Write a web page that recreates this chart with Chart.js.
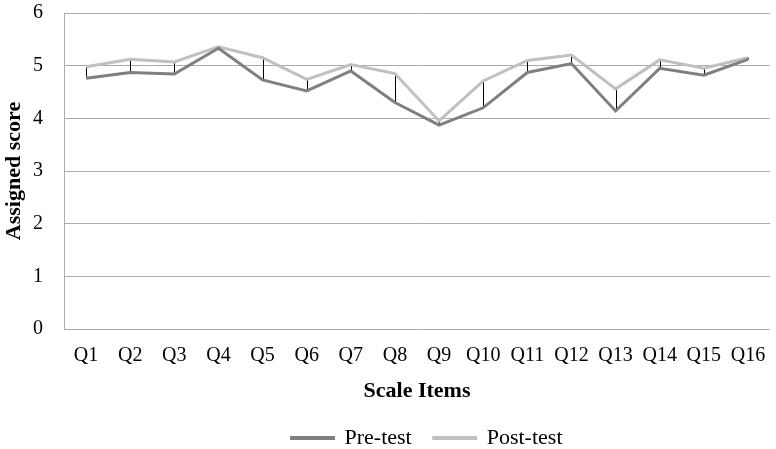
<!DOCTYPE html>
<html>
<head>
<meta charset="utf-8">
<script src="https://cdn.jsdelivr.net/npm/chart.js@4/dist/chart.umd.min.js"></script>
<style>
    html, body { margin: 0; padding: 0; background: #fff; }
    #wrap { width: 776px; height: 449px; }
</style>
</head>
<body>
<div id="wrap"><canvas id="chart"></canvas></div>
<script>
const categories = ['Q1', 'Q2', 'Q3', 'Q4', 'Q5', 'Q6', 'Q7', 'Q8', 'Q9', 'Q10', 'Q11', 'Q12', 'Q13', 'Q14', 'Q15', 'Q16'];
const preTest = [4.76, 4.87, 4.84, 5.33, 4.73, 4.52, 4.90, 4.30, 3.87, 4.20, 4.87, 5.04, 4.14, 4.95, 4.82, 5.12];
const postTest = [4.98, 5.12, 5.07, 5.36, 5.15, 4.74, 5.02, 4.85, 3.95, 4.71, 5.10, 5.20, 4.56, 5.11, 4.95, 5.15];

const serif = '"Liberation Serif", "DejaVu Serif", serif';

// thin black high-low lines between the two series at every category
const dropLines = {
    id: 'dropLines',
    beforeDatasetsDraw(chart) {
        const {ctx, scales: {x, y}} = chart;
        ctx.save();
        ctx.strokeStyle = '#000';
        ctx.lineWidth = 1;
        categories.forEach((c, i) => {
            const px = Math.round(x.getPixelForValue(i)) + 0.5;
            ctx.beginPath();
            ctx.moveTo(px, y.getPixelForValue(preTest[i]));
            ctx.lineTo(px, y.getPixelForValue(postTest[i]));
            ctx.stroke();
        });
        ctx.restore();
    }
};

// the legend sits a little right of the page centre in the original
const legendShift = {
    id: 'legendShift',
    afterLayout(chart) {
        chart.legend.left += 42;
        chart.legend.right += 42;
    }
};

const boot = () => {
    new Chart(document.getElementById('chart'), {
        type: 'line',
        data: {
            labels: categories,
            datasets: [{
                label: 'Pre-test',
                data: preTest,
                borderColor: '#7f7f7f',
                backgroundColor: '#7f7f7f',
                borderWidth: 3,
                pointRadius: 0,
                tension: 0,
            }, {
                label: 'Post-test',
                data: postTest,
                borderColor: '#c0c0c0',
                backgroundColor: '#c0c0c0',
                borderWidth: 3,
                pointRadius: 0,
                tension: 0,
            }]
        },
        options: {
            responsive: true,
            maintainAspectRatio: false,
            animation: false,
            layout: { padding: { left: 0, right: 6, top: 13, bottom: -10 } },
            plugins: {
                tooltip: { enabled: false },
                legend: {
                    position: 'bottom',
                    labels: {
                        font: { family: serif, size: 22 },
                        color: '#000',
                        boxWidth: 42,
                        boxHeight: 1,
                        padding: 22,
                    }
                }
            },
            scales: {
                x: {
                    offset: true,
                    afterFit: (s) => {
                        s.height = 76;
                        s.paddingLeft = 0;
                        s.paddingRight = 0;
                    },
                    grid: { display: false, drawTicks: false },
                    border: { display: false },
                    ticks: {
                        font: { family: serif, size: 20 },
                        color: '#000',
                        padding: 15,
                        maxRotation: 0,
                        autoSkip: false,
                    },
                    title: {
                        display: true,
                        text: 'Scale Items',
                        font: { family: serif, size: 22, weight: 'bold' },
                        color: '#000',
                        padding: { top: 2, bottom: 0 },
                    }
                },
                y: {
                    min: 0,
                    max: 6,
                    afterFit: (s) => {
                        s.width = 64;
                        s.paddingTop = 0;
                        s.paddingBottom = 0;
                    },
                    ticks: {
                        stepSize: 1,
                        font: { family: serif, size: 20 },
                        color: '#000',
                        padding: 21,
                    },
                    grid: { color: '#ababab', lineWidth: 1, drawTicks: false },
                    border: { color: '#ababab', width: 1 },
                    title: {
                        display: true,
                        text: 'Assigned score',
                        font: { family: serif, size: 22, weight: 'bold' },
                        color: '#000',
                        padding: { top: 1, bottom: 5 },
                    }
                }
            }
        },
        plugins: [dropLines, legendShift]
    });
};

window.addEventListener('DOMContentLoaded', boot);
</script>
</body>
</html>
